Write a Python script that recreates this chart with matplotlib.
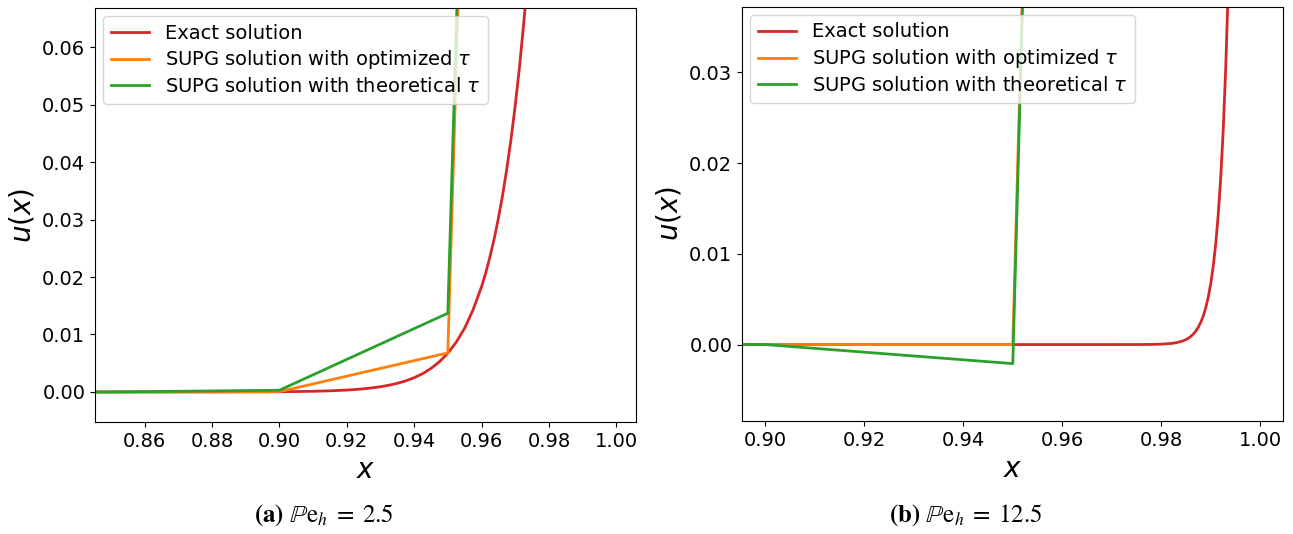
import matplotlib

matplotlib.use("Agg")
import matplotlib.pyplot as plt

# ── data: mesh nodes (h = 0.05) near the outflow boundary ──
nodes = [0.0, 0.85, 0.90, 0.95, 1.0]

# Pe_h = 2.5
supg_opt_a = [0.0, 0.0, 0.00005, 0.0068, 1.0]
supg_theo_a = [0.0, 0.0, 0.0003, 0.0137, 1.0]
exact_x_a = [0.0, 0.85, 0.88, 0.90, 0.905, 0.91, 0.915, 0.92, 0.9225, 0.925,
             0.9275, 0.93, 0.9325, 0.935, 0.9375, 0.94, 0.9425, 0.945, 0.9475,
             0.95, 0.9525, 0.955, 0.9575, 0.96, 0.96125, 0.9625, 0.96375,
             0.965, 0.96625, 0.9675, 0.96875, 0.97, 0.97125, 0.9725, 0.97375,
             0.975, 0.98, 1.0]
exact_u_a = [0.0, 0.0, 0.0000025, 0.000045, 0.000075, 0.00012, 0.0002,
             0.000335, 0.00043, 0.00055, 0.00071, 0.00091, 0.00117, 0.0015,
             0.00193, 0.00248, 0.00318, 0.00409, 0.00525, 0.00674, 0.00865,
             0.0111, 0.0143, 0.0183, 0.0207, 0.0235, 0.0266, 0.0302, 0.0342,
             0.0388, 0.0439, 0.0498, 0.0564, 0.0639, 0.0724, 0.0821, 0.135,
             1.0]

# Pe_h = 12.5
supg_opt_b = [0.0, 0.0, 0.0, 0.0, 1.0]
supg_theo_b = [0.0, 0.0, 0.0, -0.0021, 1.0]
exact_x_b = [0.0, 0.95, 0.97, 0.975, 0.978, 0.98, 0.982, 0.983, 0.984, 0.9845,
             0.985, 0.9855, 0.986, 0.9865, 0.987, 0.9875, 0.988, 0.9885, 0.989,
             0.9895, 0.990, 0.9905, 0.991, 0.9915, 0.992, 0.9925, 0.993,
             0.9935, 0.994, 0.995, 1.0]
exact_u_b = [0.0, 0.0, 0.0, 0.000004, 0.000017, 0.000045, 0.00012, 0.0002,
             0.00034, 0.00043, 0.00055, 0.00071, 0.00091, 0.00117, 0.0015,
             0.00193, 0.00248, 0.00318, 0.00409, 0.00525, 0.00674, 0.00865,
             0.0111, 0.0143, 0.0183, 0.0235, 0.0302, 0.0388, 0.0498, 0.0821,
             1.0]

panels = [
    dict(ex_x=exact_x_a, ex_u=exact_u_a, opt=supg_opt_a, theo=supg_theo_a,
         xlim=(0.8453, 1.0059), ylim=(-0.0052, 0.0668),
         caption=r"$\mathbf{(a)}\ \mathbb{P}\mathrm{e}_h\;=\;2.5$", cap_x=0.2505),
    dict(ex_x=exact_x_b, ex_u=exact_u_b, opt=supg_opt_b, theo=supg_theo_b,
         xlim=(0.8953, 1.0046), ylim=(-0.0084, 0.0372),
         caption=r"$\mathbf{(b)}\ \mathbb{P}\mathrm{e}_h\;=\;12.5$", cap_x=0.747),
]

fig = plt.figure(figsize=(12.93, 5.34), dpi=100)
boxes = [[0.0735, 0.21, 0.4185, 0.775], [0.5739, 0.212, 0.4184, 0.775]]

for box, p in zip(boxes, panels):
    ax = fig.add_axes(box)
    ax.plot(p["ex_x"], p["ex_u"], color="tab:red", lw=2, label="Exact solution")
    ax.plot(nodes, p["opt"], color="tab:orange", lw=2,
            label=r"SUPG solution with optimized $\tau$")
    ax.plot(nodes, p["theo"], color="tab:green", lw=2,
            label=r"SUPG solution with theoretical $\tau$")
    ax.set_xlim(*p["xlim"])
    ax.set_ylim(*p["ylim"])
    ax.tick_params(labelsize=14)
    ax.set_xlabel(r"$x$", fontsize=20)
    ax.set_ylabel(r"$u(x)$", fontsize=20)
    ax.legend(loc="upper left", fontsize=14, labelspacing=0.3,
              borderaxespad=0.4)
    fig.text(p["cap_x"], 0.012, p["caption"], ha="center", va="bottom",
             fontsize=18, math_fontfamily="stix")

plt.savefig("out.png", dpi=100)
